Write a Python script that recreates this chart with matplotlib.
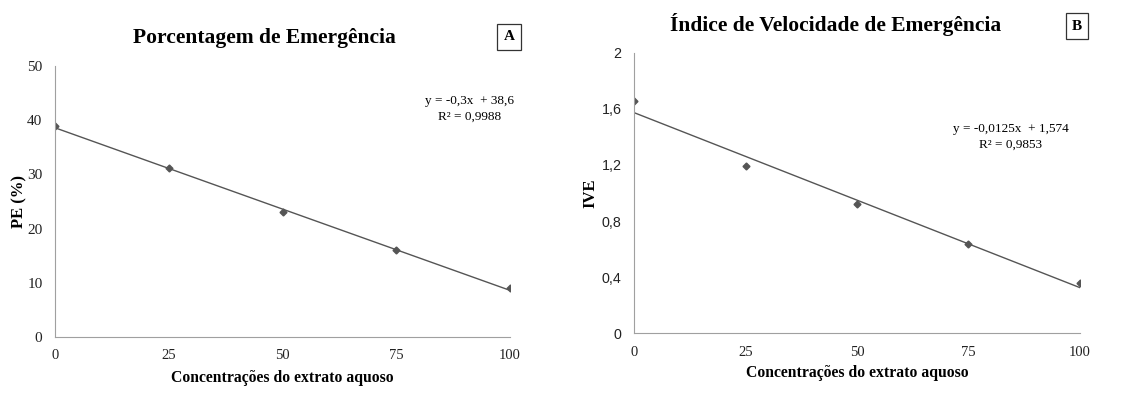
import matplotlib
matplotlib.use("Agg")
import matplotlib.pyplot as plt
import numpy as np

# concentrations of the aqueous extract (%)
conc = [0, 25, 50, 75, 100]

# panel A - emergence percentage
pe = [39.0, 31.2, 23.0, 16.0, 9.1]
pe_slope, pe_icpt = -0.3, 38.6
pe_eq = "y = -0,3x  + 38,6\nR² = 0,9988"

# panel B - emergence speed index
ive = [1.66, 1.19, 0.92, 0.634, 0.36]
ive_slope, ive_icpt = -0.0125, 1.574
ive_eq = "y = -0,0125x  + 1,574\nR² = 0,9853"

pe_ticks = [0, 10, 20, 30, 40, 50]
ive_ticks = [0, 0.4, 0.8, 1.2, 1.6, 2]
ive_ticklabels = ["0", "0,4", "0,8", "1,2", "1,6", "2"]

serif = "Liberation Serif"
sans = "Liberation Sans"

fig = plt.figure(figsize=(11.41, 3.94), dpi=100)


def setup(ax, xlab_y):
    for s in ["top", "right"]:
        ax.spines[s].set_visible(False)
    for s in ["left", "bottom"]:
        ax.spines[s].set_color("#a0a0a0")
        ax.spines[s].set_linewidth(0.8)
    ax.tick_params(length=0, pad=9, colors="#222222")
    ax.tick_params(axis="x", labelsize=10.5)
    ax.set_xlim(0, 100)
    ax.set_xticks(conc)
    for t in ax.get_xticklabels():
        t.set_fontfamily(serif)
    ax.set_xlabel("Concentrações do extrato aquoso", fontfamily=serif,
                  fontweight="bold", fontsize=11.3, va="center")
    ax.xaxis.set_label_coords(0.5, xlab_y)


# A
axA = fig.add_axes([0.0482, 0.1447, 0.3988, 0.6878])
x = np.array(conc)
axA.plot(x, pe_slope * x + pe_icpt, color="#555555", lw=1.0)
axA.plot(conc, pe, ls="none", marker="D", ms=3.5, color="#555555")
axA.set_ylim(0, 50)
axA.set_yticks(pe_ticks)
setup(axA, -0.151)
axA.tick_params(axis="y", labelsize=11)
for t in axA.get_yticklabels():
    t.set_fontfamily(serif)
axA.set_ylabel("PE (%)", fontfamily=serif, fontweight="bold", fontsize=12,
               va="center")
axA.yaxis.set_label_coords(-0.079, 0.5)
axA.text(0.91, 0.843, pe_eq, transform=axA.transAxes, ha="center", va="center",
         fontfamily=serif, fontsize=9.5, linespacing=1.4)
fig.text(264 / 1141, 1 - 38 / 394, "Porcentagem de Emergência", ha="center",
         va="center", fontfamily=serif, fontweight="bold", fontsize=15.5)
fig.text(509 / 1141, 1 - 37 / 394, "A", ha="center", va="center",
         fontfamily=serif, fontweight="bold", fontsize=11,
         bbox=dict(boxstyle="square,pad=0.4", fc="white", ec="#333333", lw=0.9))

# B
axB = fig.add_axes([0.5557, 0.1548, 0.3908, 0.7107])
axB.plot(x, ive_slope * x + ive_icpt, color="#555555", lw=1.0)
axB.plot(conc, ive, ls="none", marker="D", ms=3.5, color="#555555")
axB.set_ylim(0, 2)
axB.set_yticks(ive_ticks)
axB.set_yticklabels(ive_ticklabels)
setup(axB, -0.143)
axB.tick_params(axis="y", labelsize=10.3)
for t in axB.get_yticklabels():
    t.set_fontfamily(sans)
axB.set_ylabel("IVE", fontfamily=serif, fontweight="bold", fontsize=12,
               va="center")
axB.yaxis.set_label_coords(-0.099, 0.5)
axB.text(0.845, 0.702, ive_eq, transform=axB.transAxes, ha="center",
         va="center", fontfamily=serif, fontsize=9.5, linespacing=1.4)
fig.text(836 / 1141, 1 - 25 / 394, "Índice de Velocidade de Emergência",
         ha="center", va="center", fontfamily=serif, fontweight="bold",
         fontsize=15.5)
fig.text(1077 / 1141, 1 - 26 / 394, "B", ha="center", va="center",
         fontfamily=serif, fontweight="bold", fontsize=11,
         bbox=dict(boxstyle="square,pad=0.4", fc="white", ec="#333333", lw=0.9))

fig.savefig("out.png", dpi=100)
